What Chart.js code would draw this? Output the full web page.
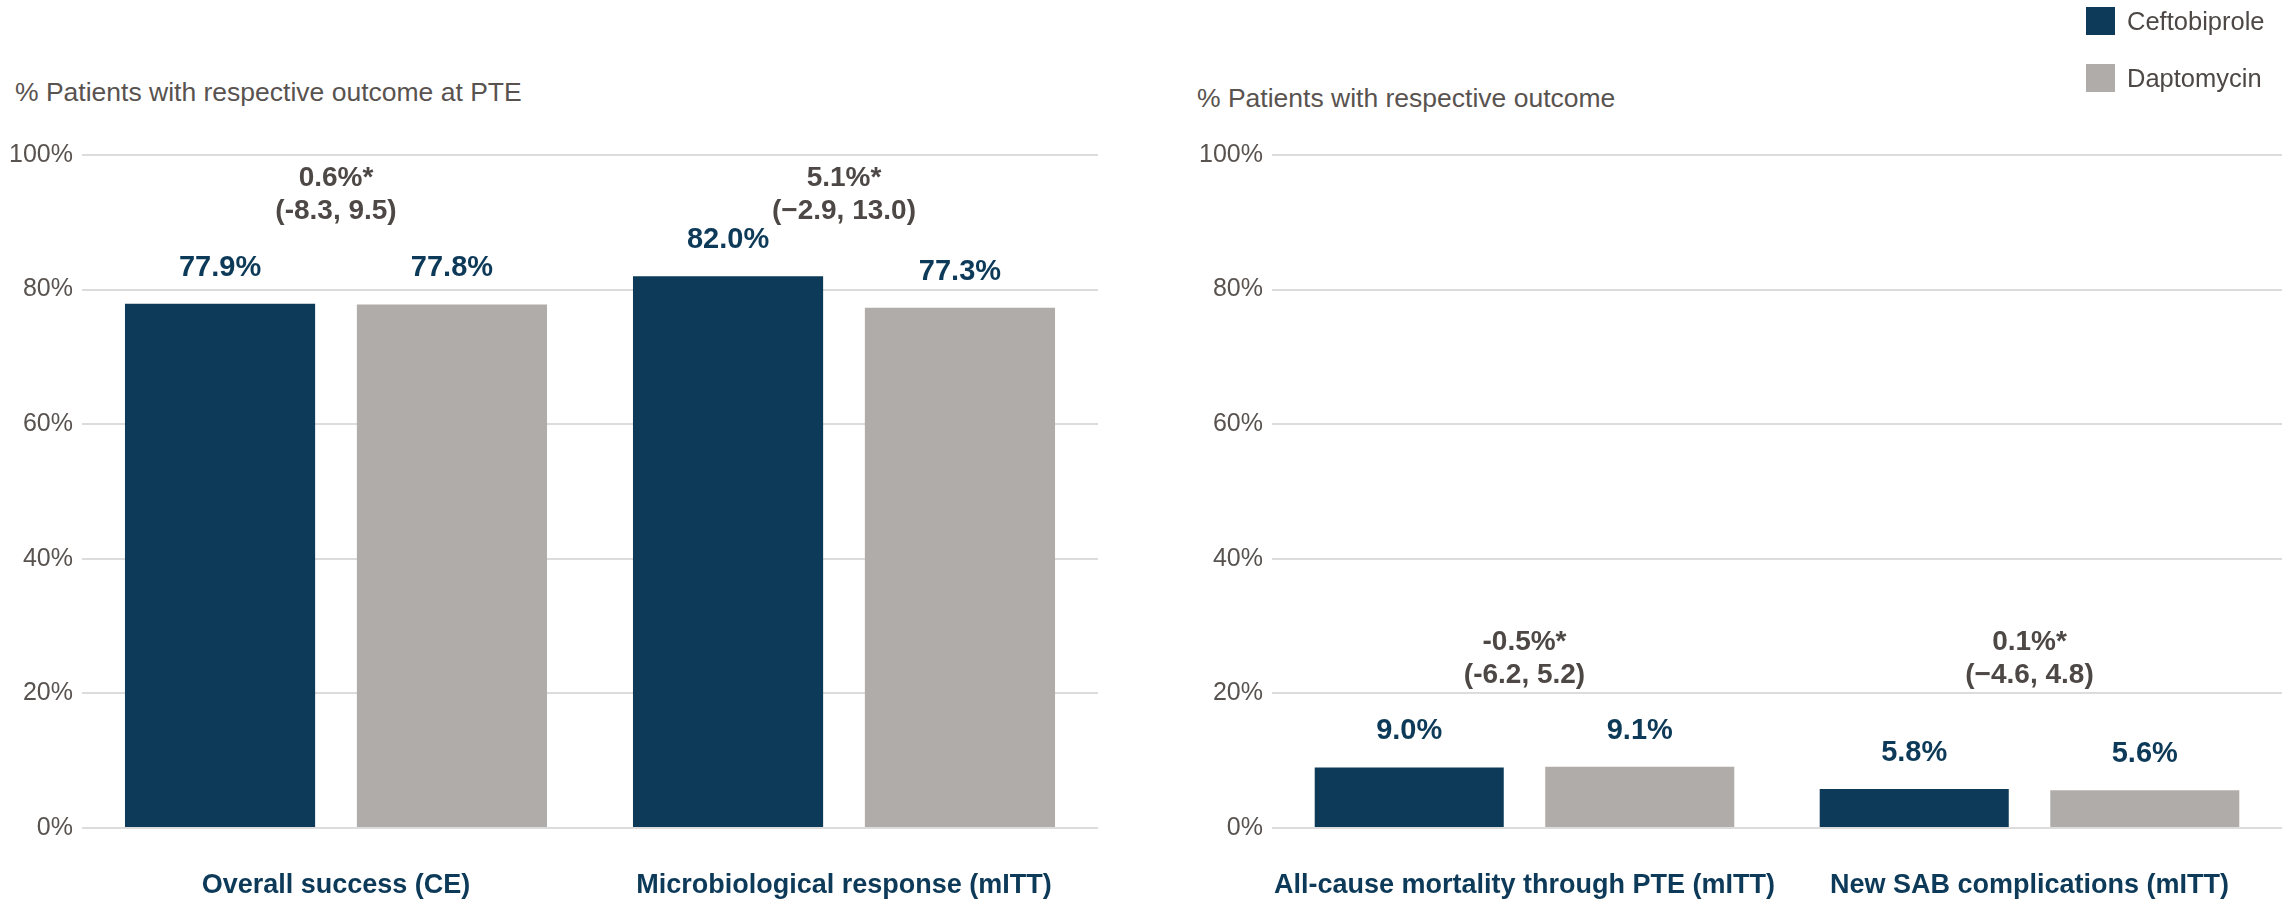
<!DOCTYPE html>
<html lang="en">
<head>
  <meta charset="UTF-8" />
  <title>Ceftobiprole vs Daptomycin</title>
  <script src="https://cdn.jsdelivr.net/npm/chart.js"></script>
  <style>
    body {
      margin: 0;
      background: #ffffff;
      width: 2295px;
      height: 902px;
      overflow: hidden;
      position: relative;
      font-family: "Liberation Sans", Arial, sans-serif;
    }
    .panel {
      position: absolute;
      top: 0;
    }
    .axis-title {
      position: absolute;
      font-size: 26.5px;
      line-height: 30px;
      color: #595350;
      white-space: nowrap;
    }
    .legend {
      position: absolute;
      left: 2086px;
      top: 7px;
      color: #4d4845;
      font-size: 25.5px;
    }
    .legend-item {
      display: flex;
      align-items: center;
      height: 28px;
      margin-bottom: 29px;
    }
    .legend-box {
      width: 29px;
      height: 28px;
      margin-right: 12px;
    }
  </style>
</head>
<body>
  <div class="axis-title" style="left:15px; top:77px">% Patients with respective outcome at PTE</div>
  <div class="axis-title" style="left:1197px; top:83px">% Patients with respective outcome</div>
  <div class="panel" style="left:0px"><canvas id="leftChart" width="1110" height="902"></canvas></div>
  <div class="panel" style="left:1150px"><canvas id="rightChart" width="1145" height="902"></canvas></div>
  <div class="legend" id="legend"></div>

  <script>
    // series
    const seriesNames = ["Ceftobiprole", "Daptomycin"];
    const seriesColors = ["#0d3a58", "#b0aca9"];

    // left panel
    const leftCategories = ["Overall success (CE)", "Microbiological response (mITT)"];
    const leftCefto = [77.9, 82.0];
    const leftDapto = [77.8, 77.3];
    const leftDiff = ["0.6%*", "5.1%*"];
    const leftCI = ["(-8.3, 9.5)", "(\u22122.9, 13.0)"];

    // right panel
    const rightCategories = ["All-cause mortality through PTE (mITT)", "New SAB complications (mITT)"];
    const rightCefto = [9.0, 5.8];
    const rightDapto = [9.1, 5.6];
    const rightDiff = ["-0.5%*", "0.1%*"];
    const rightCI = ["(-6.2, 5.2)", "(\u22124.6, 4.8)"];

    const yTicks = [0, 20, 40, 60, 80, 100];

    const FONT = '"Liberation Sans", Arial, sans-serif';
    Chart.defaults.font.family = FONT;

    // value labels above bars + difference / CI text above each pair
    const pairLabels = {
      id: "pairLabels",
      afterDatasetsDraw(chart, args, opts) {
        const ctx = chart.ctx;
        ctx.save();
        ctx.textAlign = "center";
        ctx.textBaseline = "middle";
        ctx.font = "bold 29px " + FONT;
        ctx.fillStyle = "#0d3a58";
        chart.data.datasets.forEach((ds, di) => {
          chart.getDatasetMeta(di).data.forEach((bar, i) => {
            ctx.fillText(ds.data[i].toFixed(1) + "%", bar.x, bar.y - 36);
          });
        });
        const xs = chart.scales.x;
        const y0 = chart.scales.y.getPixelForValue(opts.level);
        ctx.font = "bold 28px " + FONT;
        ctx.fillStyle = "#4d4845";
        opts.diffs.forEach((d, i) => {
          const x = xs.getPixelForValue(i);
          ctx.fillText(d, x, y0);
          ctx.fillText(opts.cis[i], x, y0 + 33);
        });
        ctx.restore();
      }
    };

    function makeChart(id, cats, cefto, dapto, diffs, cis, cfg) {
      return new Chart(document.getElementById(id), {
        type: "bar",
        data: {
          labels: cats,
          datasets: [
            { label: seriesNames[0], data: cefto, backgroundColor: seriesColors[0] },
            { label: seriesNames[1], data: dapto, backgroundColor: seriesColors[1] }
          ]
        },
        options: {
          responsive: false,
          animation: false,
          categoryPercentage: 0.913,
          barPercentage: 0.82,
          layout: { padding: { left: 0, right: cfg.padRight, top: 155, bottom: 0 } },
          plugins: {
            legend: { display: false },
            tooltip: { enabled: false },
            pairLabels: { diffs: diffs, cis: cis, level: cfg.level }
          },
          scales: {
            x: {
              grid: { display: false },
              border: { display: false },
              ticks: {
                color: "#0d3a58",
                font: { size: 27, weight: "bold" },
                padding: 33,
                maxRotation: 0,
                autoSkip: false
              },
              afterFit: s => { s.height = 74; }
            },
            y: {
              min: 0,
              max: 100,
              afterBuildTicks: s => { s.ticks = yTicks.map(v => ({ value: v })); },
              grid: { color: "#dcdcdc", lineWidth: 2, drawTicks: false },
              border: { display: false },
              ticks: {
                color: "#595350",
                font: { size: 25 },
                padding: cfg.tickPad,
                callback: v => v + "%"
              },
              afterFit: s => { s.width = cfg.axisWidth; }
            }
          }
        },
        plugins: [pairLabels]
      });
    }

    makeChart("leftChart", leftCategories, leftCefto, leftDapto, leftDiff, leftCI, {
      padRight: 12, axisWidth: 82, tickPad: 9, level: 96.5
    });

    makeChart("rightChart", rightCategories, rightCefto, rightDapto, rightDiff, rightCI, {
      padRight: 13, axisWidth: 122, tickPad: 9, level: 27.6
    });

    // legend
    const legend = document.getElementById("legend");
    seriesNames.forEach((name, i) => {
      const item = document.createElement("div");
      item.className = "legend-item";
      const box = document.createElement("span");
      box.className = "legend-box";
      box.style.background = seriesColors[i];
      const txt = document.createElement("span");
      txt.textContent = name;
      item.appendChild(box);
      item.appendChild(txt);
      legend.appendChild(item);
    });
  </script>
</body>
</html>
